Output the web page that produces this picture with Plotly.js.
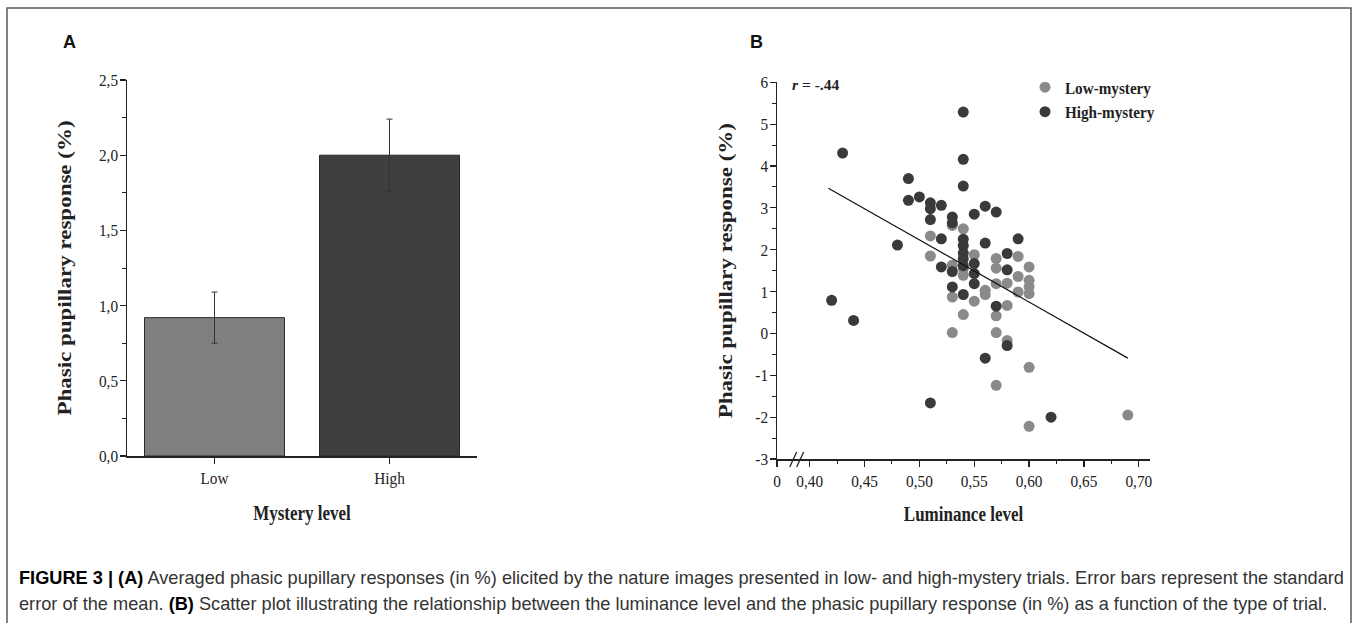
<!DOCTYPE html>
<html><head><meta charset="utf-8">
<script src="https://cdn.plot.ly/plotly-3.0.1.min.js"></script>
<style>html,body{margin:0;padding:0;background:#fff}#chart{width:1358px;height:623px}</style>
</head><body><div id="chart"></div>
<script>
// ---------- Panel A data ----------
const barCategories = ['Low', 'High'];
const barMeans = [0.92, 2.00];
const barSE = [0.17, 0.24];
const barColors = ['#7f7f7f', '#3f3f3f'];
const yTicksA = [0, 0.5, 1.0, 1.5, 2.0, 2.5];
const yTickTextA = ['0,0', '0,5', '1,0', '1,5', '2,0', '2,5'];
const yMinorA = [0.25, 0.75, 1.25, 1.75, 2.25];

// ---------- Panel B data ----------
const lowX = [0.51, 0.51,
  0.53, 0.53, 0.53, 0.53,
  0.54, 0.54, 0.54, 0.54,
  0.55, 0.55,
  0.56, 0.56,
  0.57, 0.57, 0.57, 0.57, 0.57, 0.57,
  0.58, 0.58, 0.58,
  0.59, 0.59, 0.59,
  0.60, 0.60, 0.60, 0.60, 0.60, 0.60,
  0.69];
const lowY = [2.33, 1.85,
  2.58, 1.63, 0.87, 0.02,
  2.50, 1.55, 1.39, 0.45,
  1.88, 0.77,
  1.03, 0.93,
  1.79, 1.56, 1.19, 0.42, 0.02, -1.24,
  1.20, 0.67, -0.17,
  1.84, 1.36, 0.99,
  1.59, 1.27, 1.11, 0.95, -0.81, -2.22,
  -1.95];
const highX = [0.42, 0.43, 0.44, 0.48,
  0.49, 0.49, 0.50,
  0.51, 0.51, 0.51, 0.51,
  0.52, 0.52, 0.52,
  0.53, 0.53, 0.53, 0.53,
  0.54, 0.54, 0.54, 0.54, 0.54, 0.54, 0.54, 0.54, 0.54,
  0.55, 0.55, 0.55, 0.55,
  0.56, 0.56, 0.56,
  0.57, 0.57,
  0.58, 0.58, 0.58,
  0.59, 0.62];
const highY = [0.79, 4.31, 0.31, 2.11,
  3.70, 3.18, 3.26,
  3.12, 2.98, 2.72, -1.66,
  3.06, 2.26, 1.59,
  2.78, 2.64, 1.48, 1.11,
  5.29, 4.16, 3.52, 2.25, 2.10, 1.92, 1.78, 1.62, 0.93,
  2.85, 1.67, 1.43, 1.19,
  3.04, 2.16, -0.59,
  2.90, 0.65,
  1.91, 1.52, -0.29,
  2.26, -2.00];
const fitX = [0.417, 0.690];
const fitY = [3.47, -0.59];
const xTicksB = [0.3702, 0.40, 0.45, 0.50, 0.55, 0.60, 0.65, 0.70];
const xTickTextB = ['0', '0,40', '0,45', '0,50', '0,55', '0,60', '0,65', '0,70'];
const xMinorB = [0.425, 0.475, 0.525, 0.575, 0.625, 0.675];
const yTicksB = [-3, -2, -1, 0, 1, 2, 3, 4, 5, 6];
const yMinorB = [-2.5, -1.5, -0.5, 0.5, 1.5, 2.5, 3.5, 4.5, 5.5];

const captionLine1 = '<span style="color:#000"><b>FIGURE 3 | (A)</b></span> Averaged phasic pupillary responses (in %) elicited by the nature images presented in low- and high-mystery trials. Error bars represent the standard';
const captionLine2 = 'error of the mean. <span style="color:#000"><b>(B)</b></span> Scatter plot illustrating the relationship between the luminance level and the phasic pupillary response (in %) as a function of the type of trial.';

// ---------- helpers (pixel -> paper) ----------
const W = 1358, H = 623;
const px = v => v / W;
const py = v => 1 - v / H;

const SERIF = 'Liberation Serif, Times New Roman, serif';
const SANS = 'Liberation Sans, Arial, sans-serif';
const INK = '#222';

const traces = [
  {
    type: 'bar', x: barCategories, y: barMeans, xaxis: 'x', yaxis: 'y',
    width: 0.8,
    marker: {color: barColors, line: {color: '#2a2a2a', width: 1}},
    error_y: {type: 'data', array: barSE, visible: true, color: '#333', thickness: 1, width: 3},
    showlegend: false, hoverinfo: 'skip'
  },
  {
    type: 'scatter', mode: 'markers', x: lowX, y: lowY, xaxis: 'x2', yaxis: 'y2',
    name: '<b>Low-mystery</b>', legendgroup: 'low',
    marker: {color: '#8a8a8a', size: 11, line: {width: 0}}
  },
  {
    type: 'scatter', mode: 'markers', x: highX, y: highY, xaxis: 'x2', yaxis: 'y2',
    name: '<b>High-mystery</b>', legendgroup: 'high',
    marker: {color: '#3a3a3a', size: 11, line: {width: 0}}
  },
  {
    type: 'scatter', mode: 'lines', x: fitX, y: fitY, xaxis: 'x2', yaxis: 'y2',
    line: {color: '#111', width: 1.2}, showlegend: false, hoverinfo: 'skip'
  }
];

const axisCommon = {
  showline: true, linecolor: INK, linewidth: 1.5, mirror: false,
  showgrid: false, zeroline: false,
  ticks: 'outside', ticklen: 6, tickwidth: 1.2, tickcolor: INK,
  tickfont: {family: SERIF, size: 17, color: INK},
  automargin: false, fixedrange: true
};

const layout = {
  width: W, height: H,
  margin: {l: 0, r: 0, t: 0, b: 0},
  paper_bgcolor: '#fff', plot_bgcolor: 'rgba(0,0,0,0)',
  bargap: 0.2,
  xaxis: Object.assign({}, axisCommon, {
    domain: [px(127), px(477)], anchor: 'y', type: 'category',
    range: [-0.5, 1.5],
    title: {text: '<b>Mystery level</b>', font: {family: SERIF, size: 20, color: INK}, standoff: 19}
  }),
  yaxis: Object.assign({}, axisCommon, {
    domain: [py(456), py(80)], anchor: 'x', range: [0, 2.5],
    tickmode: 'array', tickvals: yTicksA, ticktext: yTickTextA, ticklabelstandoff: -2,
    minor: {tickmode: 'array', tickvals: yMinorA, ticks: 'outside', ticklen: 3.5, tickwidth: 1, tickcolor: INK},
    title: {text: '<b>Phasic pupillary response (%)</b>', font: {family: SERIF, size: 23, color: INK}, standoff: 17}
  }),
  xaxis2: Object.assign({}, axisCommon, {
    domain: [px(777), px(1150)], anchor: 'y2', range: [0.3702, 0.7102],
    tickmode: 'array', tickvals: xTicksB, ticktext: xTickTextB,
    minor: {tickmode: 'array', tickvals: xMinorB, ticks: 'outside', ticklen: 3.5, tickwidth: 1, tickcolor: INK},
    title: {text: '<b>Luminance level</b>', font: {family: SERIF, size: 20, color: INK}, standoff: 17}
  }),
  yaxis2: Object.assign({}, axisCommon, {
    domain: [py(459), py(82.3)], anchor: 'x2', range: [-3, 6],
    tickmode: 'array', tickvals: yTicksB, ticktext: yTicksB.map(String), ticklabelstandoff: -2,
    minor: {tickmode: 'array', tickvals: yMinorB, ticks: 'outside', ticklen: 3.5, tickwidth: 1, tickcolor: INK},
    title: {text: '<b>Phasic pupillary response (%)</b>', font: {family: SERIF, size: 23, color: INK}, standoff: 13}
  }),
  legend: {
    x: px(1025), y: py(70), xanchor: 'left', yanchor: 'top',
    bgcolor: 'rgba(0,0,0,0)', borderwidth: 0,
    font: {family: SERIF, size: 16.5, color: INK},
    tracegroupgap: 0, itemclick: false, itemdoubleclick: false
  },
  annotations: [
    {xref: 'paper', yref: 'paper', x: px(69), y: py(42), text: '<b>A</b>', showarrow: false,
     xanchor: 'center', yanchor: 'middle', font: {family: SANS, size: 18, color: '#111'}},
    {xref: 'paper', yref: 'paper', x: px(756), y: py(42), text: '<b>B</b>', showarrow: false,
     xanchor: 'center', yanchor: 'middle', font: {family: SANS, size: 18, color: '#111'}},
    {xref: 'paper', yref: 'paper', x: px(790), y: py(84), text: '<b><i>r</i> = -.44</b>', showarrow: false,
     xanchor: 'left', yanchor: 'middle', font: {family: SERIF, size: 15.5, color: INK}},
    {xref: 'paper', yref: 'paper', x: px(17), y: py(578), text: captionLine1, showarrow: false,
     xanchor: 'left', yanchor: 'middle', font: {family: SANS, size: 18.2, color: '#333'}},
    {xref: 'paper', yref: 'paper', x: px(17), y: py(604), text: captionLine2, showarrow: false,
     xanchor: 'left', yanchor: 'middle', font: {family: SANS, size: 18.2, color: '#333'}}
  ],
  shapes: [
    {type: 'rect', xref: 'paper', yref: 'paper', x0: px(7), x1: px(1351), y0: py(8), y1: py(640),
     line: {color: '#5a5a5a', width: 1.5}, fillcolor: 'rgba(0,0,0,0)'},
    {type: 'line', xref: 'x2', yref: 'paper', x0: 0.3818, x1: 0.3881, y0: py(467), y1: py(452),
     line: {color: INK, width: 1.3}},
    {type: 'line', xref: 'x2', yref: 'paper', x0: 0.3881, x1: 0.3945, y0: py(467), y1: py(452),
     line: {color: INK, width: 1.3}}
  ]
};

// The reference figure's serif lettering is horizontally condensed; squeeze the
// drawn text horizontally about its anchor so both height and width match.
function squeezeText(gd) {
  const groups = [
    ['.xtick text, .ytick text, .x2tick text, .y2tick text', 0.9],
    ['.xtitle, .x2title', 0.85],
    ['.ytitle, .y2title', 0.78],
    ['.legendtext', 0.92]
  ];
  groups.forEach(([sel, s]) => {
    gd.querySelectorAll(sel).forEach(t => {
      if (t.dataset.squeezed) return;
      const bb = t.getBoundingClientRect();
      const parent = t.parentNode;
      const ctm = parent && parent.getScreenCTM ? parent.getScreenCTM() : null;
      if (!ctm || !bb.width) return;
      const anchor = t.getAttribute('text-anchor') || 'start';
      let sx = bb.left + bb.width / 2;
      if (anchor === 'end') sx = bb.right;
      else if (anchor === 'start') sx = bb.left;
      const cx = (sx - ctm.e) / ctm.a;
      const old = t.getAttribute('transform') || '';
      t.setAttribute('transform', `translate(${cx},0) scale(${s},1) translate(${-cx},0) ${old}`);
      t.dataset.squeezed = '1';
    });
  });
}

Plotly.newPlot('chart', traces, layout, {displayModeBar: false, staticPlot: true})
  .then(gd => squeezeText(gd));
</script>
</body></html>
